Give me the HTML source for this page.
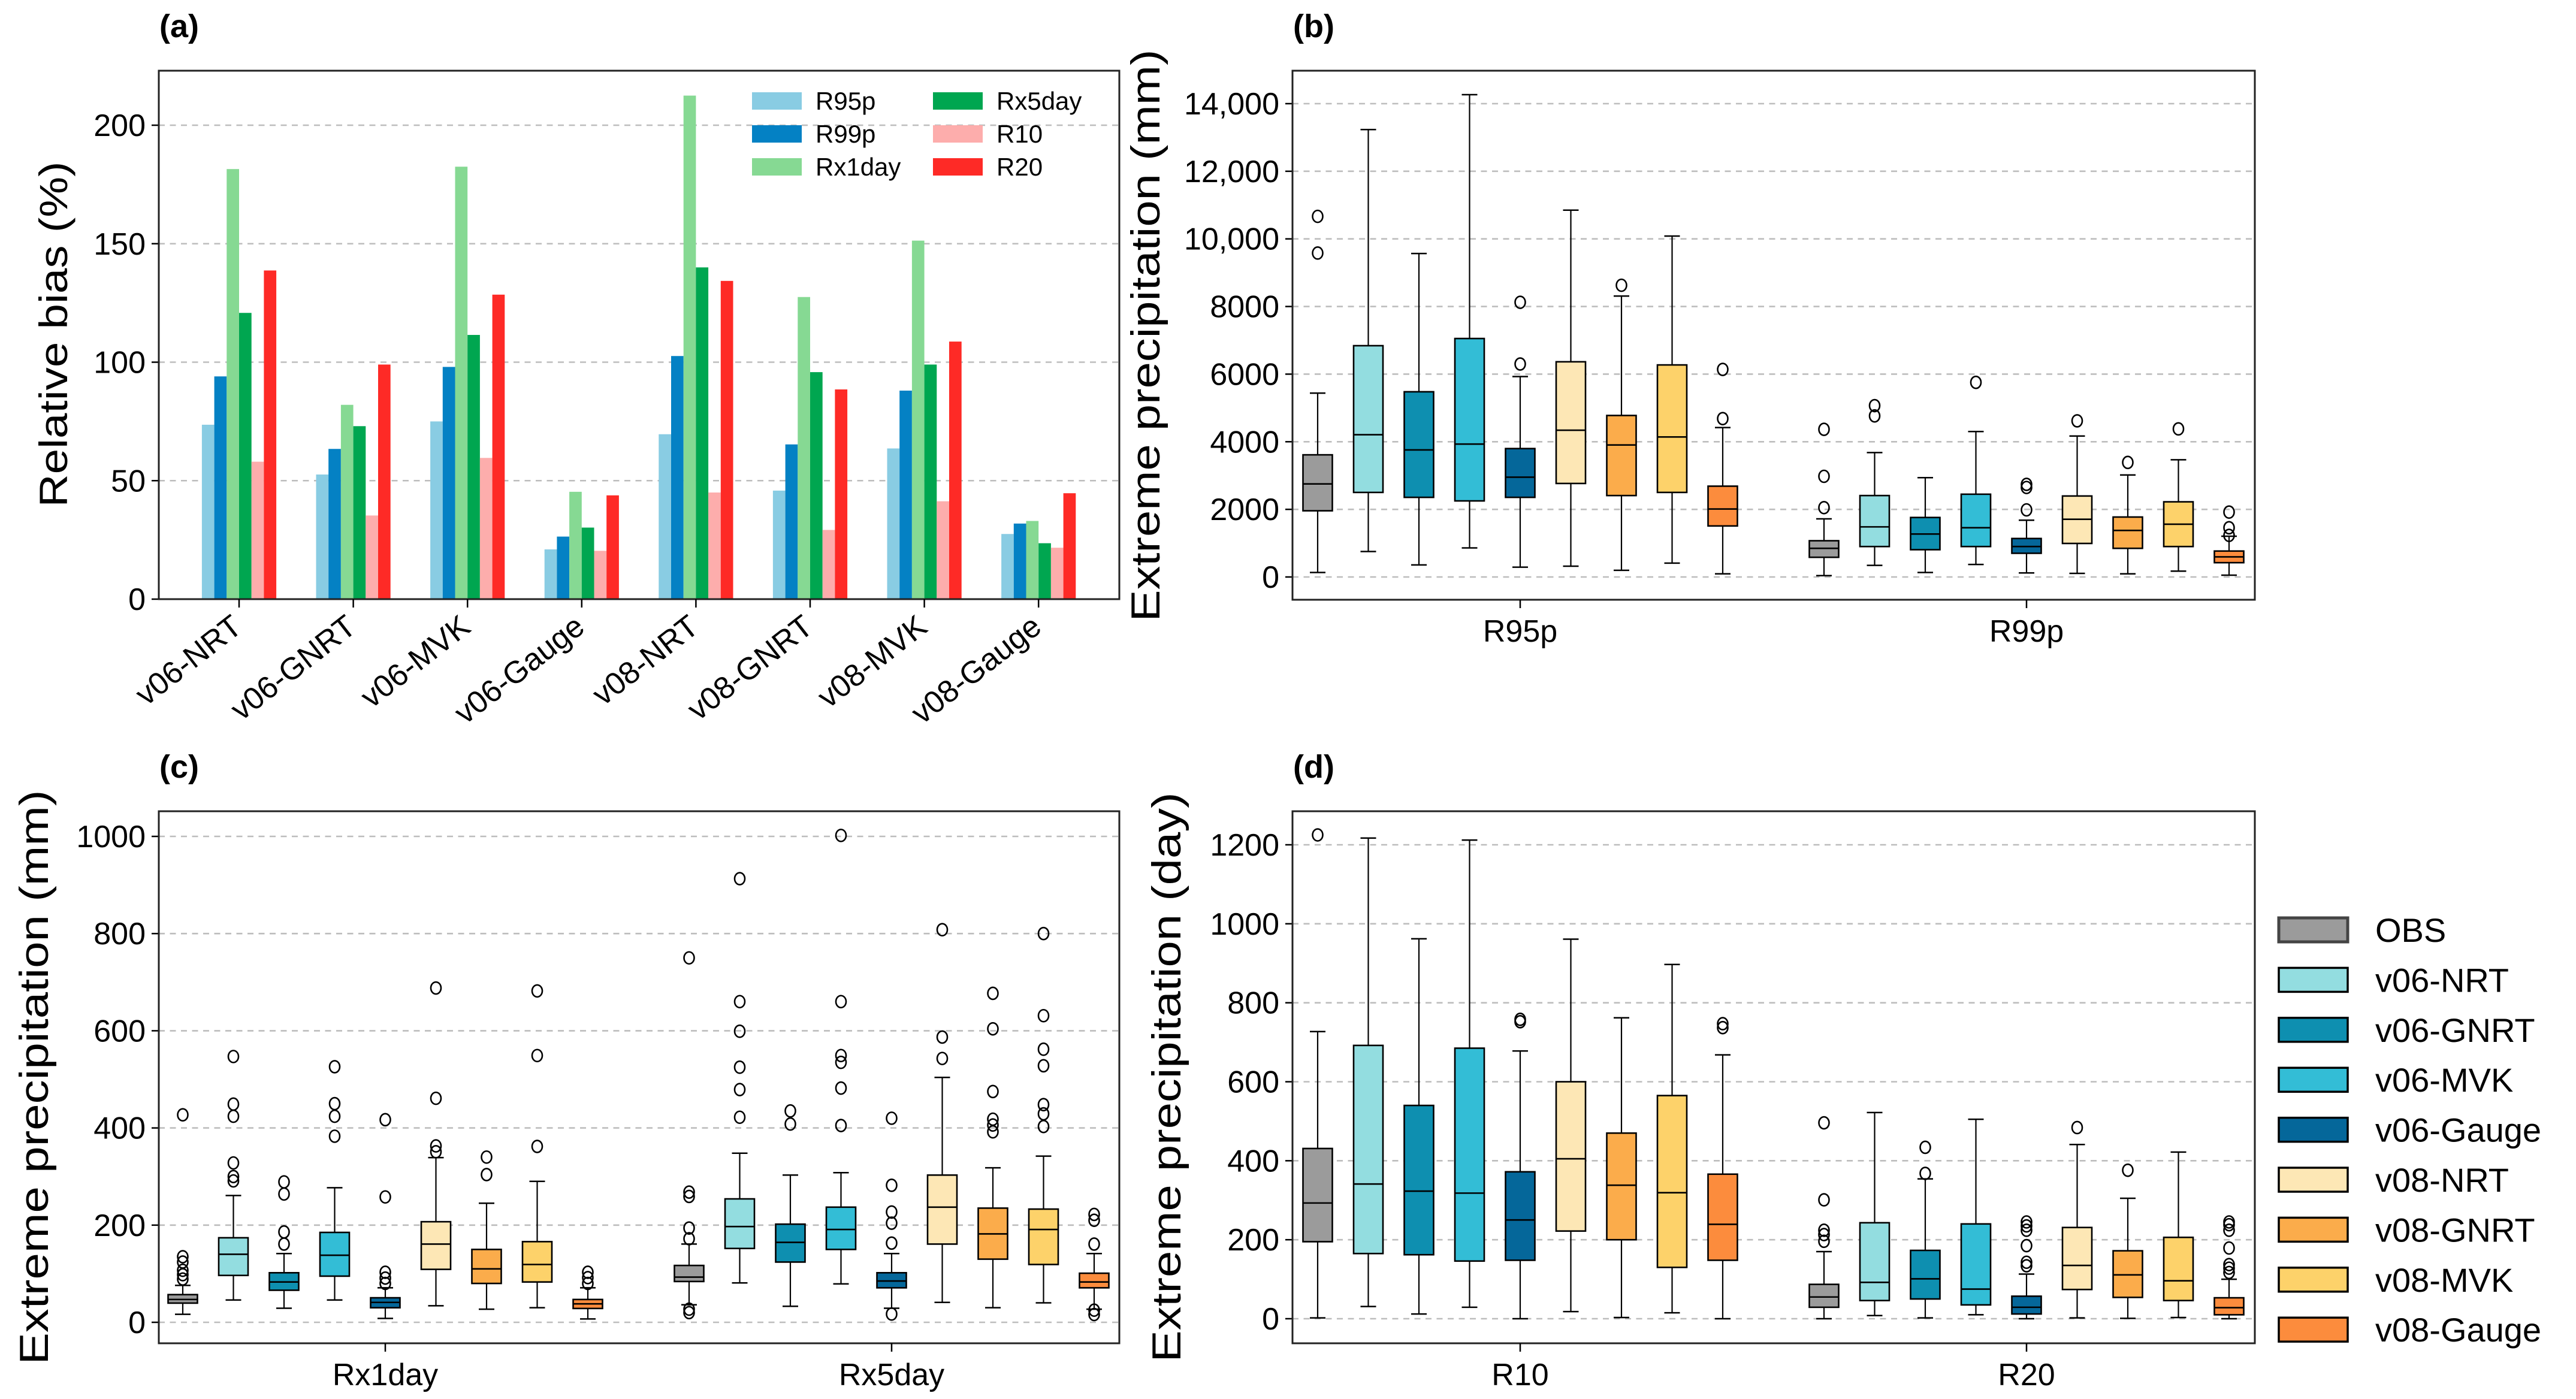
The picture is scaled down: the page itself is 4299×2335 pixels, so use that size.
<!DOCTYPE html>
<html><head><meta charset="utf-8"><style>
html,body{margin:0;padding:0;background:#fff}
svg{display:block}
text{font-family:"Liberation Sans","DejaVu Sans",sans-serif;fill:#000}
</style></head><body>
<svg id="fig" xmlns="http://www.w3.org/2000/svg" width="4299" height="2335" viewBox="0 0 4299 2335"></svg>
<script>
// ---------- Panel (a) data ----------
const barCategories = ["v06-NRT","v06-GNRT","v06-MVK","v06-Gauge","v08-NRT","v08-GNRT","v08-MVK","v08-Gauge"];
const barSeries = ["R95p","R99p","Rx1day","Rx5day","R10","R20"];
const barR95p   = [73.6,52.6,75,21,69.6,45.8,63.6,27.5];
const barR99p   = [94,63.4,98,26.4,102.6,65.3,88,31.9];
const barRx1day = [181.5,82,182.5,45.3,212.5,127.5,151.3,33];
const barRx5day = [120.8,73,111.5,30.2,140,95.8,99,23.6];
const barR10    = [58,35.3,59.6,20.4,45,29.2,41.3,21.7];
const barR20    = [138.7,99,128.5,43.8,134.3,88.5,108.7,44.7];
const aTicks = [0,50,100,150,200];

// ---------- Box datasets: [low, q1, median, q3, high, [outliers]] ----------
const boxSeries = ["OBS","v06-NRT","v06-GNRT","v06-MVK","v06-Gauge","v08-NRT","v08-GNRT","v08-MVK","v08-Gauge"];
const bGroups = ["R95p","R99p"];
const bR95p = [
 [132,1958,2752,3613,5439,[10666,9581]],
 [754,2501,4208,6841,13233,[]],
 [357,2355,3758,5478,9567,[]],
 [860,2250,3930,7053,14265,[]],
 [291,2355,2951,3798,5928,[8125,6299]],
 [318,2766,4340,6365,10851,[]],
 [198,2408,3904,4777,8310,[8628]],
 [410,2501,4142,6272,10083,[]],
 [93,1509,2011,2686,4420,[4684,6140]]];
const bR99p = [
 [40,582,847,1072,1720,[2051,2977,4367]],
 [344,900,1482,2408,3679,[4764,5068]],
 [132,807,1270,1760,2938,[]],
 [370,900,1456,2448,4301,[5756]],
 [119,701,900,1138,1680,[1985,2647,2739]],
 [106,992,1707,2395,4168,[4618]],
 [93,847,1376,1773,3017,[3388]],
 [172,900,1561,2223,3467,[4380]],
 [53,423,595,767,1204,[1230,1456,1919]]];
const bTicks = [0,2000,4000,6000,8000,10000,12000,14000];
const bTickLabels = ["0","2000","4000","6000","8000","10,000","12,000","14,000"];

const cGroups = ["Rx1day","Rx5day"];
const cRx1day = [
 [16.5,39.5,47,57,76,[89,98,107,124,135,427]],
 [46,96.5,140,174,261,[291,300,328,424,449,547]],
 [29,66,83,102,141.5,[161,186,264,289]],
 [46,95,138,185,277,[383,424,450,526]],
 [8,30,41,50.5,71,[80,91,103,258,417]],
 [34,109,161,207,339,[351,363,461,688]],
 [27,80,110,150,245,[304,340]],
 [30,83,119,166,290,[362,549,682]],
 [7,28.5,38,47,71,[80,92,103]]];
const cRx5day = [
 [36,84,93,117,161,[20,27,172,194,259,268,750]],
 [81,152,197,254,348,[422,479,525,599,660,913]],
 [33,124,164.5,202,303,[408,435]],
 [79,150,191,237,308,[405,482,535,549,660,1002]],
 [29,71,85,102,141.5,[17,163,204,227,282,420]],
 [41,161,237,303,504,[543,587,808]],
 [30,130,182,235,318,[392,406,418,475,604,677]],
 [40,119,191,233,342,[403,429,448,528,562,631,800]],
 [27,71,83,101,141.5,[16,25,161,210,222]]];
const cTicks = [0,200,400,600,800,1000];

const dGroups = ["R10","R20"];
const dR10 = [
 [2,195,293,431,727,[1225]],
 [31,165,341,692,1217,[]],
 [12,162,323,540,962,[]],
 [29,146,318,685,1212,[]],
 [0,148,250,372,678,[758,752]],
 [18,222,405,600,961,[]],
 [3,200,338,470,762,[]],
 [15,130,319,565,897,[]],
 [0,148,239,366,668,[747,737]]];
const dR20 = [
 [0,29,55,87,170,[196,213,224,301,496]],
 [8,46,92,243,522,[]],
 [2,50,101,173,354,[368,434]],
 [10,35,75,240,505,[]],
 [0,12,29,57,113,[134,143,185,224,235,245]],
 [2,74,135,231,441,[484]],
 [1,54,111,172,305,[376]],
 [3,46,96,206,422,[]],
 [0,10,28,53,100,[117,128,137,179,224,238,245]]];
const dTicks = [0,200,400,600,800,1000,1200];

const barColors = ["#89cce3","#0481c4","#86d993","#00a650","#fdadac","#fe2a26"];
const boxColors = ["#9b9b9b","#93dde0","#0e8fb0","#33bdd6","#05679a","#fde7b5","#fbac4b","#fdd26a","#fc8c3d"];

const NS="http://www.w3.org/2000/svg";
const svg=document.getElementById('fig');
function mk(tag,attrs,parent){const e=document.createElementNS(NS,tag);for(const k in attrs)e.setAttribute(k,attrs[k]);(parent||svg).appendChild(e);return e;}
function txt(s,attrs,parent){const e=mk('text',attrs,parent);e.textContent=s;return e;}

function axesFrame(name,x0,x1,y0,y1,yScale,ticks,labels){
  const g=mk('g',{});
  
  
  ticks.forEach((t,i)=>{
    const y=yScale(t);
    const gl=mk('line',{x1:x0,x2:x1,y1:y,y2:y,stroke:'#bdbdbd','stroke-width':2.6,'stroke-dasharray':'10 8.5'},g);
    
    
    mk('line',{x1:x0-12,x2:x0,y1:y,y2:y,stroke:'#000','stroke-width':2.5},g);
    const tl=txt(labels?labels[i]:String(t),{x:x0-22,y:y+18,'text-anchor':'end','font-size':52},g);
    
    
  });
  return g;
}
function frame(x0,x1,y0,y1){
  const r=mk('rect',{x:x0,y:y0,width:x1-x0,height:y1-y0,fill:'none',stroke:'#222','stroke-width':3});
  
  
}

// ---------- Panel (a) ----------
(function(){
  const x0=265,x1=1868,yt=118,yb=1000;
  const yS=v=>1000-(v/200)*(1000-209);
  const xC=i=>399+i*190.6;
  axesFrame('panel-a',x0,x1,yt,yb,yS,aTicks);
  const vals=[barR95p,barR99p,barRx1day,barRx5day,barR10,barR20];
  const bw=20.7;
  vals.forEach((arr,s)=>{
    arr.forEach((v,i)=>{
      const x=xC(i)+(s-3)*bw;
      const r=mk('rect',{x:x,y:yS(v),width:bw,height:yS(0)-yS(v),fill:barColors[s]});
      
      
    });
  });
  frame(x0,x1,yt,yb);
  barCategories.forEach((c,i)=>{
    mk('line',{x1:xC(i),x2:xC(i),y1:yb,y2:yb+14,stroke:'#000','stroke-width':2.5});
    const t=txt(c,{x:xC(i)+8,y:yb+52,'text-anchor':'end','font-size':52,transform:'rotate(-38 '+(xC(i)+8)+' '+(yb+52)+')'});
    
    
  });
  const yl=txt('Relative bias (%)',{x:0,y:0,'text-anchor':'middle','font-size':66,'font-family':'DejaVu Sans','textLength':577,'lengthAdjust':'spacingAndGlyphs',transform:'translate(112 558) rotate(-90)'});
  
  
  const pl=txt('(a)',{x:266,y:62,'font-size':54,'font-weight':'bold'});
  
  
  // legend
  const lg=mk('g',{});
  
  
  barSeries.forEach((s,k)=>{
    const col=Math.floor(k/3),row=k%3;
    const px=col?1557:1255, ty=154+row*55;
    const r=mk('rect',{x:px,y:ty,width:83,height:29,fill:barColors[k]},lg);
    
    
    const t=txt(s,{x:px+106,y:ty+29,'font-size':42},lg);
    
    
  });
})();

// ---------- Box panels ----------
function boxPanel(name,label,x0,x1,yt,yb,y0px,yTopPx,yTopVal,ticks,tickLabels,groups,groupCenters,data,ylabel,ylabX,ylabY,ylabLen){
  const yS=v=>y0px-(v/yTopVal)*(y0px-yTopPx);
  axesFrame(name,x0,x1,yt,yb,yS,ticks,tickLabels);
  const step=84.5,bw=49,cap=26;
  data.forEach((set,gi)=>{
    set.forEach((d,i)=>{
      const cx=groupCenters[gi]+(i-4)*step;
      const g=mk('g',{});
      
      
      const [lo,q1,md,q3,hi,out]=d;
      mk('line',{x1:cx,x2:cx,y1:yS(lo),y2:yS(q1),stroke:'#000','stroke-width':2.2},g);
      mk('line',{x1:cx,x2:cx,y1:yS(q3),y2:yS(hi),stroke:'#000','stroke-width':2.2},g);
      mk('line',{x1:cx-cap/2,x2:cx+cap/2,y1:yS(lo),y2:yS(lo),stroke:'#000','stroke-width':2.5},g);
      mk('line',{x1:cx-cap/2,x2:cx+cap/2,y1:yS(hi),y2:yS(hi),stroke:'#000','stroke-width':2.5},g);
      mk('rect',{x:cx-bw/2,y:yS(q3),width:bw,height:yS(q1)-yS(q3),fill:boxColors[i],stroke:'#000','stroke-width':2.6},g);
      mk('line',{x1:cx-bw/2,x2:cx+bw/2,y1:yS(md),y2:yS(md),stroke:'#000','stroke-width':2.6},g);
      out.forEach(o=>{mk('ellipse',{cx:cx,cy:yS(o),rx:8.5,ry:10,fill:'none',stroke:'#000','stroke-width':2.6},g);});
    });
  });
  frame(x0,x1,yt,yb);
  groups.forEach((gname,gi)=>{
    mk('line',{x1:groupCenters[gi],x2:groupCenters[gi],y1:yb,y2:yb+14,stroke:'#000','stroke-width':2.5});
    const t=txt(gname,{x:groupCenters[gi],y:yb+70,'text-anchor':'middle','font-size':52});
    
    
  });
  const yl=txt(ylabel,{x:0,y:0,'text-anchor':'middle','font-size':68,'font-family':'DejaVu Sans','textLength':ylabLen,'lengthAdjust':'spacingAndGlyphs',transform:'translate('+ylabX+' '+ylabY+') rotate(-90)'});
  
  
  const pl=txt(label,{x:x0+1,y:yt-56,'font-size':54,'font-weight':'bold'});
  
  
}
boxPanel('panel-b','(b)',2157,3763,118,1001,963,173,14000,bTicks,bTickLabels,bGroups,[2537,3382],[bR95p,bR99p],'Extreme precipitation (mm)',1935,560,955);
boxPanel('panel-c','(c)',265,1868,1354,2242,2207,1396,1000,cTicks,null,cGroups,[643,1488],[cRx1day,cRx5day],'Extreme precipitation (mm)',80,1798,959);
boxPanel('panel-d','(d)',2157,3763,1354,2242,2201,1410,1200,dTicks,null,dGroups,[2537,3382],[dR10,dR20],'Extreme precipitation (day)',1970,1798,951);

// ---------- box legend ----------
(function(){
  const lg=mk('g',{});
  
  
  boxSeries.forEach((s,i)=>{
    const cy=1552+i*83.4;
    const r=mk('rect',{x:3803,y:cy-20,width:115,height:40,fill:boxColors[i],stroke:i===0?'#444':'#000','stroke-width':i===0?5:3.5},lg);
    
    
    const t=txt(s,{x:3964,y:cy+20,'font-size':56},lg);
    
    
  });
})();
</script>
</body></html>
